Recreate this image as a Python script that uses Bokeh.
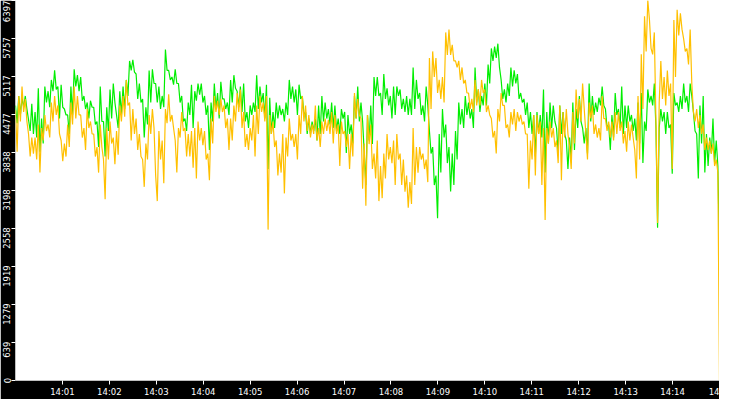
from datetime import datetime, timezone
from bokeh.plotting import figure
from bokeh.models import Range1d, FixedTicker, LinearAxis, DatetimeTickFormatter
from bokeh.embed import file_html
from bokeh.resources import INLINE

# ---- data (one sample about every 2 s from 14:00 to 14:15) ----
green_values = [
    4630, 4330, 4790, 4470, 4760, 4600, 4790, 4570, 4390, 4200, 4660, 4150, 4520, 4090, 4920, 3850, 4410, 3990,
    4950, 4680, 4870, 4600, 5060, 4870, 5220, 4900, 4950, 4410, 4980, 4600, 4570, 4470, 4470, 4150, 4950, 4470,
    5240, 4950, 5140, 4870, 5110, 4710, 4790, 4570, 4680, 4410, 4710, 4600, 4600, 4310, 4360, 3930, 4950, 4360,
    4360, 3770, 4600, 4200, 4900, 4410, 5000, 4680, 4470, 4250, 4870, 4470, 4950, 4570, 5060, 4790, 5380, 5220,
    5400, 5190, 5160, 4740, 5000, 4680, 4740, 4090, 4600, 4310, 5220, 4680, 5240, 5000, 5000, 4680, 4950, 4570,
    4790, 4600, 5570, 5220, 5220, 5060, 5110, 4980, 5240, 5000, 5000, 4680, 4790, 4360, 4410, 4200, 4680, 4470,
    # 14:03:45 -
    4980, 4250, 4870, 4710, 5000, 4810, 5000, 4680, 4790, 4470, 4630, 3880, 4680, 4360, 5000, 4570, 4840, 4410,
    5030, 4740, 4740, 4570, 4680, 4470, 5060, 4680, 5140, 4920, 4870, 4600, 4950, 4520, 5000, 4360, 4520, 4250,
    4630, 4470, 4680, 4520, 5140, 4570, 4950, 4680, 4840, 4410, 4980, 3560, 4760, 4150, 4520, 4250, 4680, 4410,
    4630, 4470, 4570, 4360, 4680, 4470, 5060, 4740, 4950, 4680, 4900, 4470, 4980, 4740, 4790, 4470, 4520, 4150,
    4410, 4150, 4360, 4200, 4410, 4040, 4630, 4150, 4790, 4360, 4680, 4410, 4570, 4310, 4680, 4250, 4630, 4200,
    4410, 4150, 4570, 4410, 4520, 3830, 4470, 4150, 4310, 3990, 4790, 4410, 4950, 4360, 4680, 4360, 3830, 3290,
    # 14:07:30 -
    4470, 4040, 4630, 3980, 5110, 4790, 5110, 4790, 4840, 4470, 5160, 4740, 4920, 4630, 4790, 4410, 4950, 4470,
    4950, 4790, 4900, 4570, 4740, 4520, 4790, 4470, 4740, 4470, 5270, 4570, 5060, 4740, 4840, 4470, 4630, 4360,
    4950, 4630, 4200, 3820, 3930, 3290, 3450, 2730, 4150, 3500, 4570, 4090, 4310, 3660, 3930, 3180, 3820, 3290,
    4200, 3720, 4680, 4310, 4570, 4250, 4790, 4470, 4680, 4410, 4570, 4250, 5270, 4680, 4900, 4520, 4790, 4630,
    5000, 4630, 5320, 5000, 5590, 5380, 5620, 5430, 5670, 5270, 5060, 4740, 4900, 4680, 5000, 4790, 5270, 4950,
    5220, 5000, 5160, 4740, 4840, 4680, 4740, 4470, 4680, 4250, 4520, 4150, 4470, 3770, 4520, 4150, 4470, 4090,
    # 14:11:15 -
    4900, 3500, 4520, 3990, 4680, 4250, 4630, 4360, 4250, 3820, 4630, 4150, 4520, 4150, 4040, 3560, 4090, 3720,
    4680, 3880, 4570, 4250, 4790, 4360, 4250, 3990, 4250, 3820, 5000, 4360, 4790, 4470, 4680, 4520, 4760, 4630,
    4950, 4630, 4570, 4250, 4310, 3880, 4470, 4090, 4840, 4470, 4570, 4250, 4950, 4150, 4630, 4250, 4630, 4360,
    4470, 4200, 4410, 4040, 4680, 3990, 4840, 3660, 4360, 4200, 4900, 4680, 4790, 4630, 5000, 4250, 2570, 4250,
    4570, 4360, 4520, 4150, 4520, 4250, 4310, 3480, 4840, 4630, 4680, 4520, 4790, 4570, 5000, 4680, 4790, 4520,
    5000, 4790, 4520, 4200, 4150, 3400, 4630, 3990, 4790, 3500, 4150, 3610, 4090, 3820, 4410, 3660, 4040, 3610,
    2100,
]

orange_values = [
    4550, 3850, 4790, 4360, 4950, 4520, 4740, 4360, 4150, 3770, 4090, 3820, 4090, 3720, 4310, 3500, 4250, 4040,
    4470, 4200, 4310, 4090, 4680, 4360, 4790, 4470, 4630, 4150, 4040, 3690, 3990, 3770, 4310, 3930, 4680, 4310,
    4950, 4410, 4790, 4470, 4470, 4090, 4250, 3880, 4570, 4250, 4360, 4150, 4150, 3770, 3930, 3500, 4310, 3930,
    3720, 3050, 4250, 3720, 4360, 3990, 4090, 3640, 4200, 3800, 4630, 4360, 4790, 4440, 5060, 4630, 4680, 4040,
    4570, 4150, 4410, 3880, 4150, 3770, 3720, 3260, 3990, 3720, 4470, 4150, 4570, 4250, 3450, 3020, 4200, 3720,
    4040, 3320, 4570, 4330, 4820, 4360, 4470, 4250, 4040, 3500, 4250, 4090, 4520, 4200, 4250, 3770, 4150, 3770,
    # 14:03:45 -
    4200, 3580, 4250, 3400, 4360, 4040, 4250, 3960, 4200, 3720, 3820, 3370, 4410, 3990, 4790, 4520, 4710, 4470,
    4740, 4520, 4630, 4250, 4410, 3880, 4410, 4040, 4630, 4360, 4840, 4520, 4900, 4250, 4520, 3930, 4150, 3880,
    4250, 4040, 4470, 3770, 4630, 4150, 4790, 4520, 4680, 4360, 4790, 2540, 4470, 4150, 4360, 3930, 4040, 3450,
    3820, 3500, 4150, 3150, 4090, 3770, 4410, 4040, 4150, 3930, 4150, 3720, 4470, 4150, 4790, 4360, 4630, 4200,
    4470, 4090, 4310, 4150, 4630, 4040, 4250, 3930, 4360, 4150, 4410, 4200, 4390, 4150, 4520, 3990, 4470, 4150,
    4310, 3610, 4360, 4150, 4200, 3930, 4150, 3560, 4150, 3770, 4840, 4410, 4740, 4470, 4410, 3230, 3990, 2940,
    # 14:07:30 -
    4470, 3980, 4310, 3560, 3820, 3400, 4040, 3020, 3610, 3070, 3820, 3400, 4150, 3720, 3930, 3660, 4040, 3290,
    4150, 3720, 3820, 3290, 3720, 3180, 3450, 2910, 3340, 2970, 4250, 3290, 3930, 3500, 3930, 3720, 3820, 3560,
    3720, 3340, 5430, 4570, 5540, 5110, 5430, 4840, 5060, 4740, 5110, 4680, 5860, 5480, 5910, 5480, 5650, 5380,
    5380, 5270, 5380, 5060, 5270, 5000, 5060, 4840, 4840, 4570, 4740, 4520, 5060, 4630, 4900, 4630, 5060, 4840,
    4900, 4520, 4630, 4470, 4410, 4090, 4200, 3820, 4570, 4360, 4840, 4630, 4630, 4250, 4310, 4090, 4520, 4310,
    4570, 4200, 4520, 4360, 4470, 4310, 4360, 4150, 4150, 3230, 4040, 3720, 4470, 3450, 4470, 4150, 4360, 3290,
    # 14:11:15 -
    4250, 2700, 4250, 3990, 4360, 4090, 4250, 3930, 4040, 3660, 4630, 3370, 4520, 4090, 4570, 4150, 3930, 3560,
    4520, 3990, 4900, 4410, 4740, 4360, 5000, 4570, 4150, 3720, 4680, 4410, 4630, 4150, 4310, 4090, 4250, 4040,
    4790, 4410, 4410, 4200, 4360, 4090, 4360, 4040, 4520, 4150, 4520, 4200, 4360, 3990, 4200, 3850, 4360, 4040,
    4310, 4090, 3880, 3400, 4790, 3720, 5490, 4570, 6130, 5540, 6400, 6080, 5590, 5490, 5860, 4360, 2650, 4680,
    5380, 4740, 5110, 4630, 5220, 4790, 5000, 3560, 6070, 5110, 6240, 5810, 6180, 5910, 5750, 5540, 5590, 5320,
    5910, 5000, 4520, 4360, 4570, 4250, 4470, 4150, 4310, 3880, 4090, 3880, 4040, 3820, 3990, 3610, 3720, 3500,
    0,
]

y_ticks = [0, 639.7, 1279.4, 1919.1, 2558.8, 3198.5, 3838.2, 4477.9, 5117.6, 5757.3, 6397]
y_tick_labels = ["0", "639", "1279", "1919", "2558", "3198", "3838", "4477", "5117", "5757", "6397"]
x_tick_minutes = list(range(1, 16))
last_x_label = "14"   # the last label is cut off at the right edge in the reference
y_max = 6397

# ---- build ----
t0 = datetime(2024, 1, 1, 14, 0, 0, tzinfo=timezone.utc).timestamp() * 1000.0
span_ms = 15 * 60 * 1000.0
n = len(green_values)
step = span_ms / (n - 1)
x = [t0 + i * step for i in range(n)]

W, H = 719, 399
p = figure(width=W, height=H, x_axis_type="datetime",
           x_range=Range1d(t0, t0 + span_ms), y_range=Range1d(0, y_max),
           output_backend="svg", toolbar_location=None,
           background_fill_color="white", border_fill_color="black",
           min_border=0, min_border_left=0, min_border_right=0, min_border_top=0, min_border_bottom=0)
p.outline_line_color = None
p.grid.visible = False

FONT = "DejaVu Sans"
FS = "8.5px"

# x axis
x_ticks = [t0 + m * 60000.0 for m in x_tick_minutes]
xa = p.xaxis[0]
xa.ticker = FixedTicker(ticks=x_ticks)
xa.formatter = DatetimeTickFormatter(minutes="%H:%M", hours="%H:%M", minsec="%H:%M",
                                     seconds="%H:%M", days="%H:%M")
xa.major_label_overrides = {x_ticks[-1]: last_x_label}
xa.axis_line_color = None
xa.major_tick_line_color = "white"
xa.major_tick_in = 0
xa.major_tick_out = 4
xa.minor_tick_line_color = None
xa.major_label_text_color = "white"
xa.major_label_text_font = FONT
xa.major_label_text_font_size = FS
xa.major_label_standoff = 2

# y axis: tick marks only
ya = p.yaxis[0]
ya.ticker = FixedTicker(ticks=y_ticks)
ya.axis_line_color = None
ya.major_tick_line_color = "white"
ya.major_tick_in = 0
ya.major_tick_out = 4
ya.minor_tick_line_color = None
ya.major_label_overrides = {t: "" for t in y_ticks}
ya.major_label_text_font_size = "0px"
ya.major_label_standoff = 0

# y axis labels: vertical, ending at their tick (as in the reference)
frame_h = H - 17
units_per_px = y_max / frame_h
label_pos = []
overrides = {}
for t, lab in zip(y_ticks, y_tick_labels):
    off = 0.0 if t == 0 else 0.5 * len(lab) * 4.8 * units_per_px
    pos = round(t - off, 3)
    label_pos.append(pos)
    overrides[pos] = lab
la = LinearAxis(ticker=FixedTicker(ticks=label_pos), major_label_overrides=overrides)
la.axis_line_color = None
la.major_tick_line_color = None
la.major_tick_in = 0
la.major_tick_out = 0
la.minor_tick_line_color = None
la.major_label_orientation = "vertical"
la.major_label_text_color = "white"
la.major_label_text_font = FONT
la.major_label_text_font_size = FS
la.major_label_standoff = 1
p.add_layout(la, "left")

p.line(x, green_values, line_color="#00ee00", line_width=1.2)
p.line(x, orange_values, line_color="#ffc000", line_width=1.2)

open("out.html", "w").write(file_html(p, INLINE))
